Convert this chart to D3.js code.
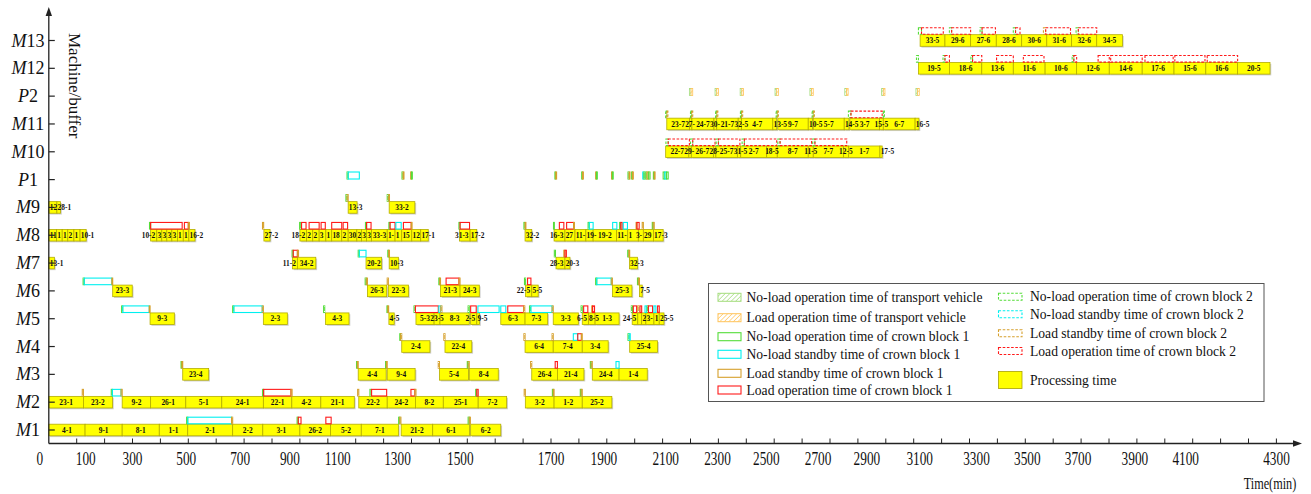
<!DOCTYPE html>
<html>
<head>
<meta charset="utf-8">
<title>Machine/buffer schedule</title>
<script src="https://cdn.jsdelivr.net/npm/d3@7/dist/d3.min.js"></script>
<style>
  html, body { margin: 0; padding: 0; background: #fff; }
  svg { display: block; font-family: "Liberation Serif", "Times New Roman", Times, serif; }
</style>
</head>
<body>
<svg id="chart" width="1311" height="494"></svg>
<script>
// ---------------- rows (bottom to top) ----------------
const rowNames = ["M1","M2","M3","M4","M5","M6","M7","M8","M9","P1","M10","M11","P2","M12","M13"];
const bufferRows = ["P1","P2"];

// ---------------- time axis ----------------
const tickValues = d3.range(100, 4401, 100);
const tickLabels = ["0","100","300","500","700","900","1100","1300","1500","1700","1900","2100",
                    "2300","2500","2700","2900","3100","3300","3500","3700","3900","4100","4300"];

// ---------------- processing time: [operation, start, end] (min) ----------------
const procM1 = [["4-1",0,130],["9-1",130,263],["8-1",263,396],["1-1",396,498],["2-1",498,659],
  ["2-2",659,767],["3-1",767,900],["26-2",900,1010],["5-2",1010,1120],["7-1",1120,1253],
  ["21-2",1263,1376],["6-1",1376,1508],["6-2",1512,1620]];
const procM2 = [["23-1",0,124],["23-2",124,228],["9-2",263,365],["26-1",365,491],["5-1",491,620],
  ["24-1",620,769],["22-1",769,871],["4-2",871,975],["21-1",975,1095],["22-2",1111,1213],
  ["24-2",1213,1314],["8-2",1314,1414],["25-1",1414,1539],["7-2",1539,1641],["3-2",1708,1811],
  ["1-2",1811,1912],["25-2",1912,2018]];
const procM3 = [["23-4",480,573],["4-4",1109,1209],["9-4",1213,1313],["5-4",1400,1504],["8-4",1507,1611],
  ["26-4",1731,1823],["21-4",1823,1918],["24-4",1948,2044],["1-4",2044,2145]];
const procM4 = [["2-4",1265,1366],["22-4",1420,1516],["6-4",1707,1808],["7-4",1808,1912],
  ["3-4",1912,2005],["25-4",2082,2182]];
const procM5 = [["9-3",363,450],["2-3",769,855],["4-3",992,1076],["4-5",1219,1238],["5-3",1316,1381],
  ["23-5",1381,1402],["8-3",1402,1507],["2-5",1512,1534],["9-5",1534,1544],["6-3",1620,1707],
  ["7-3",1707,1788],["3-3",1808,1898],["6-5",1912,1934],["8-5",1934,1958],["1-3",1958,2044],
  ["24-5",2091,2111],["21-5",2111,2125],["26-5",2125,2140],["3-5",2140,2169],["1-5",2169,2188],
  ["25-5",2188,2205]];
const procM6 = [["23-3",229,299],["26-3",1142,1211],["22-3",1217,1289],["21-3",1404,1474],
  ["24-3",1474,1543],["22-5",1709,1731],["5-5",1731,1754],["25-3",2020,2090],["7-5",2117,2127]];
const procM7 = [["13-1",0,20],["11-2",873,891],["34-2",891,957],["20-2",1137,1193],["10-3",1220,1253],
  ["28-3",1818,1850],["20-3",1850,1868],["32-3",2081,2110]];
const procM8 = [["11-1",0,28],["15-1",28,48],["16-1",48,68],["27-1",68,90],["14-1",90,112],["10-1",112,134],
  ["10-2",365,387],["33-1",387,405],["30-1",405,423],["34-1",423,441],["31-1",441,461],["13-2",461,482],
  ["12-2",482,502],["16-2",502,524],
  ["27-2",771,793],
  ["18-2",900,924],["28-2",924,946],["29-2",946,969],["30-2",969,993],["13-3",993,1014],["18-3",1014,1050],
  ["29-3",1050,1073],["30-3",1073,1104],["20-4",1104,1121],["3-6",1121,1139],["31-2",1139,1157],
  ["33-3",1157,1213],["1-6",1213,1241],["15-2",1241,1265],["15-3",1265,1301],["12-3",1301,1333],
  ["17-1",1333,1360],
  ["31-3",1472,1510],["17-2",1510,1534],["32-2",1707,1731],
  ["16-3",1811,1850],["27-3",1850,1886],["11-3",1886,1925],["19-1",1925,1951],["19-2",1951,2035],
  ["11-4",2035,2075],["14-3",2075,2113],["3-7",2113,2131],["29-4",2131,2167],["17-3",2167,2202]];
const procM9 = [["12-1",0,29],["28-1",29,42],["13-3",1073,1105],["33-2",1220,1312]];
const procM10 = [["22-7",2211,2294],["29-5",2294,2303],["26-7",2303,2382],["28-5",2382,2391],
  ["25-7",2391,2468],["31-5",2468,2480],["2-7",2480,2573],["18-5",2573,2611],["8-7",2611,2722],
  ["11-5",2722,2740],["7-7",2740,2848],["12-5",2848,2866],["1-7",2866,2979],["17-5",2979,2987]];
const procM11 = [["23-7",2215,2296],["27-5",2296,2305],["24-7",2305,2384],["30-5",2384,2394],
  ["21-7",2394,2471],["32-5",2471,2483],["4-7",2483,2595],["13-5",2595,2609],["9-7",2613,2722],
  ["10-5",2722,2737],["5-7",2740,2851],["14-5",2851,2868],["3-7",2871,2977],["15-5",2977,2991],
  ["6-7",2991,3105],["16-5",3105,3119]];
const procM12 = [["19-5",3117,3228],["18-6",3228,3344],["13-6",3344,3457],["11-6",3457,3571],
  ["10-6",3571,3684],["12-6",3684,3801],["14-6",3801,3919],["17-6",3919,4033],["15-6",4033,4147],
  ["16-6",4147,4261],["20-5",4261,4377]];
const procM13 = [["33-5",3123,3212],["29-6",3212,3304],["27-6",3304,3396],["28-6",3396,3487],
  ["30-6",3487,3577],["31-6",3577,3666],["32-6",3666,3756],["34-5",3756,3848]];

// ---------------- crown block / vehicle states: [row, start, end, state] ----------------
// state: nlo = no-load operation, nls = no-load standby, ls = load standby, lo = load operation
const crownBlock1 = [
  ["M1",494,498,"nlo"],["M1",498,655,"nls"],["M1",655,659,"ls"],["M1",890,894,"nlo"],["M1",894,904,"lo"],
  ["M1",993,1012,"lo"],["M1",1254,1258,"nlo"],["M1",1258,1262,"ls"],["M1",1503,1507,"nlo"],["M1",1507,1511,"ls"],
  ["M2",120,124,"ls"],["M2",224,228,"nlo"],["M2",228,259,"nls"],["M2",259,263,"ls"],
  ["M2",766,770,"nlo"],["M2",770,868,"lo"],["M2",868,872,"ls"],["M2",1107,1111,"ls"],
  ["M2",1151,1155,"nlo"],["M2",1157,1211,"lo"],["M2",1298,1312,"lo"],["M2",1312,1316,"ls"],
  ["M2",1530,1534,"nlo"],["M2",1534,1539,"lo"],["M2",1704,1708,"ls"],["M2",1805,1808,"nlo"],["M2",1808,1811,"ls"],
  ["M2",1905,1908,"nlo"],["M2",1908,1912,"ls"],
  ["M3",474,477,"nlo"],["M3",477,480,"ls"],["M3",1103,1106,"nlo"],["M3",1106,1109,"ls"],
  ["M3",1207,1210,"nlo"],["M3",1210,1213,"ls"],["M3",1396,1400,"ls"],["M3",1500,1503,"nlo"],["M3",1503,1507,"ls"],
  ["M3",1727,1731,"ls"],["M3",1815,1823,"lo"],["M3",1941,1944,"nlo"],["M3",1944,1948,"ls"],["M3",2033,2044,"nls"],
  ["M4",1258,1261,"nlo"],["M4",1261,1265,"ls"],["M4",1416,1420,"ls"],["M4",1703,1707,"ls"],["M4",1804,1808,"ls"],
  ["M4",1880,1895,"nls"],["M4",1896,1909,"lo"],["M4",1909,1912,"ls"],["M4",2076,2080,"nlo"],["M4",2080,2084,"nls"],
  ["M5",261,265,"nlo"],["M5",265,360,"nls"],["M5",360,363,"ls"],["M5",659,663,"nlo"],["M5",663,765,"nls"],["M5",765,769,"ls"],
  ["M5",985,989,"nlo"],["M5",1212,1215,"nlo"],["M5",1215,1218,"ls"],
  ["M5",1309,1313,"nlo"],["M5",1314,1396,"lo"],["M5",1398,1405,"nls"],["M5",1405,1409,"ls"],
  ["M5",1503,1507,"nlo"],["M5",1512,1532,"lo"],["M5",1538,1614,"nls"],["M5",1620,1638,"nls"],
  ["M5",1645,1702,"lo"],["M5",1702,1706,"ls"],["M5",1723,1727,"nlo"],["M5",1728,1804,"nls"],["M5",1804,1808,"ls"],
  ["M5",1908,1912,"nlo"],["M5",1917,1932,"lo"],["M5",1946,1949,"ls"],["M5",1949,1956,"lo"],
  ["M5",2088,2092,"nlo"],["M5",2095,2107,"lo"],["M5",2111,2115,"ls"],["M5",2119,2125,"lo"],["M5",2137,2143,"nls"],
  ["M5",2145,2149,"nlo"],["M5",2149,2164,"lo"],["M5",2169,2176,"nls"],["M5",2182,2188,"lo"],
  ["M6",123,127,"nlo"],["M6",127,226,"nls"],["M6",226,229,"ls"],["M6",1134,1138,"nlo"],["M6",1138,1142,"ls"],
  ["M6",1213,1217,"ls"],["M6",1398,1401,"nlo"],["M6",1401,1404,"ls"],["M6",1424,1470,"lo"],["M6",1470,1474,"ls"],
  ["M6",1705,1709,"nlo"],["M6",1716,1728,"lo"],["M6",1960,1964,"nlo"],["M6",1964,2016,"nls"],["M6",2016,2020,"ls"],
  ["M6",2110,2113,"nlo"],["M6",2113,2117,"ls"],
  ["M7",872,876,"nlo"],["M7",876,891,"lo"],["M7",891,895,"ls"],["M7",1109,1113,"nlo"],["M7",1113,1137,"nls"],
  ["M7",1215,1218,"nlo"],["M7",1218,1221,"ls"],["M7",1812,1816,"nlo"],["M7",1846,1850,"ls"],["M7",1850,1855,"lo"],
  ["M7",2075,2079,"nlo"],["M7",2079,2082,"ls"],
  ["M8",361,365,"nlo"],["M8",365,478,"lo"],["M8",486,500,"lo"],["M8",500,504,"ls"],["M8",766,770,"ls"],
  ["M8",899,903,"nlo"],["M8",906,922,"lo"],["M8",933,969,"lo"],["M8",976,991,"lo"],["M8",1014,1050,"lo"],
  ["M8",1055,1071,"lo"],["M8",1135,1139,"nlo"],["M8",1139,1155,"lo"],["M8",1219,1223,"nlo"],["M8",1223,1241,"lo"],
  ["M8",1244,1263,"nls"],["M8",1271,1299,"lo"],["M8",1299,1302,"ls"],["M8",1470,1474,"nlo"],["M8",1474,1508,"lo"],
  ["M8",1703,1707,"nlo"],["M8",1707,1710,"ls"],["M8",1809,1812,"nlo"],["M8",1830,1846,"lo"],
  ["M8",1856,1881,"lo"],["M8",1881,1884,"ls"],["M8",1933,1937,"nlo"],["M8",1937,1951,"nls"],
  ["M8",2021,2036,"nls"],["M8",2046,2050,"nlo"],["M8",2050,2055,"lo"],["M8",2059,2074,"nls"],
  ["M8",2105,2108,"ls"],["M8",2108,2116,"lo"],["M8",2127,2131,"ls"],["M8",2163,2166,"nlo"],["M8",2166,2170,"ls"],
  ["M9",1065,1069,"nlo"],["M9",1069,1073,"ls"],["M9",1213,1217,"nlo"],["M9",1217,1221,"ls"],
  ["P1",1069,1073,"nlo"],["P1",1073,1113,"nls"],["P1",1266,1270,"nlo"],["P1",1270,1273,"ls"],
  ["P1",1297,1300,"ls"],["P1",1300,1303,"nlo"],["P1",1814,1817,"nlo"],["P1",1817,1820,"ls"],
  ["P1",1910,1913,"nlo"],["P1",1913,1916,"ls"],["P1",1960,1963,"ls"],["P1",1963,1966,"nlo"],
  ["P1",2017,2020,"ls"],["P1",2020,2023,"nlo"],["P1",2076,2080,"nlo"],["P1",2080,2083,"ls"],
  ["P1",2089,2092,"nlo"],["P1",2092,2095,"ls"],["P1",2129,2133,"nls"],["P1",2133,2137,"nlo"],
  ["P1",2140,2144,"nlo"],["P1",2144,2150,"ls"],["P1",2150,2155,"nlo"],["P1",2167,2170,"nlo"],["P1",2170,2173,"ls"],
  ["P1",2202,2208,"nlo"],["P1",2208,2214,"nls"],["P1",2214,2220,"nlo"]
];
const crownBlock2 = [
  ["M10",2212,2220,"nlo"],["M10",2220,2296,"lo"],["M10",2300,2308,"nlo"],["M10",2308,2388,"lo"],
  ["M10",2392,2400,"nlo"],["M10",2400,2477,"lo"],["M10",2485,2493,"nlo"],["M10",2493,2609,"lo"],
  ["M10",2613,2621,"nlo"],["M10",2621,2734,"lo"],["M10",2738,2746,"nlo"],["M10",2746,2860,"lo"],
  ["M11",2211,2215,"nlo"],["M11",2215,2219,"ls"],["M11",2300,2304,"nlo"],["M11",2304,2308,"ls"],
  ["M11",2390,2394,"nlo"],["M11",2394,2398,"ls"],["M11",2479,2483,"nlo"],["M11",2483,2487,"ls"],
  ["M11",2607,2611,"nlo"],["M11",2611,2615,"ls"],["M11",2736,2740,"nlo"],["M11",2740,2744,"ls"],
  ["M11",2866,2875,"nlo"],["M11",2875,2987,"lo"],["M11",2991,2995,"nlo"],
  ["M12",3110,3117,"nlo"],["M12",3205,3212,"nlo"],["M12",3212,3228,"lo"],["M12",3305,3311,"nlo"],
  ["M12",3311,3344,"lo"],["M12",3397,3457,"lo"],["M12",3493,3567,"lo"],["M12",3668,3674,"nlo"],
  ["M12",3674,3684,"lo"],["M12",3761,3801,"lo"],["M12",3806,3919,"lo"],["M12",3929,4030,"lo"],
  ["M12",4036,4144,"lo"],["M12",4152,4261,"lo"],
  ["M13",3117,3128,"nlo"],["M13",3128,3206,"lo"],["M13",3228,3236,"nlo"],["M13",3236,3304,"lo"],
  ["M13",3338,3345,"nlo"],["M13",3345,3393,"lo"],["M13",3457,3465,"nlo"],["M13",3465,3481,"lo"],
  ["M13",3565,3573,"ls"],["M13",3573,3662,"lo"],["M13",3682,3690,"nlo"],["M13",3690,3756,"lo"]
];
const transportVehicle = [
  ["P2",2296,2302,"nlo"],["P2",2302,2308,"lo"],["P2",2388,2394,"nlo"],["P2",2394,2400,"lo"],
  ["P2",2478,2484,"nlo"],["P2",2484,2490,"lo"],["P2",2603,2609,"nlo"],["P2",2609,2615,"lo"],
  ["P2",2728,2734,"nlo"],["P2",2734,2740,"lo"],["P2",2853,2859,"nlo"],["P2",2859,2865,"lo"],
  ["P2",2985,2991,"nlo"],["P2",2991,2997,"lo"],["P2",3108,3114,"nlo"],["P2",3114,3120,"lo"]
];

// legend entries
const legendLeft = [
  ["No-load operation time of transport vehicle","tv","nlo"],
  ["Load operation time of transport vehicle","tv","lo"],
  ["No-load operation time of crown block 1","cb1","nlo"],
  ["No-load standby time of crown block 1","cb1","nls"],
  ["Load standby time of crown block 1","cb1","ls"],
  ["Load operation time of crown block 1","cb1","lo"]
];
const legendRight = [
  ["No-load operation time of crown block 2","cb2","nlo"],
  ["No-load standby time of crown block 2","cb2","nls"],
  ["Load standby time of crown block 2","cb2","ls"],
  ["Load operation time of crown block 2","cb2","lo"],
  ["Processing time","proc",null]
];

// ---------------- drawing ----------------
const processing = {M1:procM1, M2:procM2, M3:procM3, M4:procM4, M5:procM5, M6:procM6, M7:procM7,
  M8:procM8, M9:procM9, M10:procM10, M11:procM11, M12:procM12, M13:procM13};

const svg = d3.select("#chart");
const x = d3.scaleLinear().domain([0, 4300]).range([48.8, 1248.5]);
const y = d3.scalePoint().domain(rowNames).range([430, 40.5]);
const axisY = 443.5, axisX = x(0);

const stateColor = {nlo:"#55dd3a", nls:"#00f0f0", ls:"#d6a02c", lo:"#ff1a1a"};
const hatchColor = {nlo:"#a4dc7c", lo:"#ffc45a"};

const defs = svg.append("defs");
Object.entries(hatchColor).forEach(([k, c]) => {
  const p = defs.append("pattern").attr("id", "hatch-" + k)
    .attr("patternUnits", "userSpaceOnUse").attr("width", 3.2).attr("height", 3.2)
    .attr("patternTransform", "rotate(45)");
  p.append("rect").attr("width", 3.2).attr("height", 3.2).attr("fill", "#fff");
  p.append("line").attr("x1", 0).attr("y1", 0).attr("x2", 0).attr("y2", 3.2)
    .attr("stroke", c).attr("stroke-width", 1.3);
});

// processing bars with operation labels
const barH = 11.6;
const gBars = svg.append("g");
const span = d => x(d[2]) - x(d[1]);
rowNames.forEach(r => {
  const ops = processing[r];
  if (!ops) return;
  const cy = y(r);
  const g = gBars.append("g");
  g.selectAll("rect.shadow").data(ops).join("rect").attr("class", "shadow")
    .attr("x", d => x(d[1]) + 1.3).attr("y", cy - barH / 2 + 1.3)
    .attr("width", span).attr("height", barH).attr("fill", "#cfcfcf");
  g.selectAll("rect.bar").data(ops).join("rect").attr("class", "bar")
    .attr("x", d => x(d[1])).attr("y", cy - barH / 2)
    .attr("width", span).attr("height", barH)
    .attr("fill", "#ffff00").attr("stroke", "#b4ad00").attr("stroke-width", 0.8);

  // place each label: centred when it fits, otherwise pushed beside its bar
  const labels = ops.map((d, i) => {
    const t = g.append("text").text(d[0]).attr("y", cy + 2.6)
      .style("font-size", "7.4px").style("font-weight", "bold").attr("fill", "#111");
    const w = t.node().getComputedTextLength();
    const x0 = x(d[1]), x1 = x(d[2]);
    const prev = ops[i - 1], next = ops[i + 1];
    const prevAdj = prev && d[1] - prev[2] < 3;
    const nextAdj = next && next[1] - d[2] < 3;
    const fits = w <= x1 - x0 - 1;
    let left;
    if (fits) left = (x0 + x1) / 2 - w / 2;
    else if (nextAdj && !prevAdj) left = x(next[1]) - 1.5 - w;
    else if (prevAdj && nextAdj && span(prev) > w && span(next) > w) left = (x0 + x1) / 2 - w / 2;
    else left = x0 + 0.7;
    left = Math.max(left, axisX + 1);
    t.attr("x", left);
    return {t, text: d[0], left, w, fits};
  });
  for (let i = 0; i < labels.length - 1; i++) {
    const a = labels[i], b = labels[i + 1];
    if (!a.t) continue;
    if (a.left + a.w > b.left - 0.3) {
      if (a.fits) {
        b.left = a.left + a.w + 0.3;
        b.t.attr("x", b.left);
      } else {
        let s = a.text;
        while (s.length && a.left + a.t.node().getComputedTextLength() > b.left - 0.3) {
          s = s.slice(0, -1);
          a.t.text(s);
        }
        if (!s.length) { a.t.remove(); a.t = null; }
        else a.w = a.t.node().getComputedTextLength();
      }
    }
  }
});

// crown block and vehicle states
function markBox(d) {
  const cy = y(d[0]);
  const buf = bufferRows.includes(d[0]);
  const top = buf ? cy - 7.6 : cy - 12.8;
  const h = buf ? 7 : 6.6;
  const x0 = x(d[1]);
  const w = Math.max(x(d[2]) - x0, 0.6);
  return {x: x0, y: top, w, h};
}
const gMarks = svg.append("g");
function drawStates(data, dashed) {
  data.forEach(d => {
    const b = markBox(d);
    gMarks.append("rect").attr("x", b.x).attr("y", b.y).attr("width", b.w).attr("height", b.h)
      .attr("fill", "none").attr("stroke", stateColor[d[3]]).attr("stroke-width", 1.1)
      .attr("stroke-dasharray", dashed ? "2.6,1.6" : null);
  });
}
drawStates(crownBlock1, false);
drawStates(crownBlock2, true);
transportVehicle.forEach(d => {
  const b = markBox(d);
  gMarks.append("rect").attr("x", b.x).attr("y", b.y).attr("width", b.w).attr("height", b.h)
    .attr("fill", "url(#hatch-" + d[3] + ")").attr("stroke", hatchColor[d[3]]).attr("stroke-width", 0.8);
});

// axes
const axisColor = "#222";
const gAxis = svg.append("g");
gAxis.append("line").attr("x1", axisX).attr("y1", axisY).attr("x2", 1296).attr("y2", axisY)
  .attr("stroke", axisColor).attr("stroke-width", 1.3);
gAxis.append("path").attr("d", `M1302,${axisY} L1293,${axisY - 3.2} L1293,${axisY + 3.2} Z`).attr("fill", axisColor);
gAxis.append("line").attr("x1", axisX).attr("y1", axisY).attr("x2", axisX).attr("y2", 14)
  .attr("stroke", axisColor).attr("stroke-width", 1.3);
gAxis.append("path").attr("d", `M${axisX},7 L${axisX - 3.2},16 L${axisX + 3.2},16 Z`).attr("fill", axisColor);

gAxis.selectAll("line.xt").data(tickValues).join("line").attr("class", "xt")
  .attr("x1", d => x(d)).attr("x2", d => x(d)).attr("y1", axisY).attr("y2", axisY - 5)
  .attr("stroke", axisColor).attr("stroke-width", 1);
gAxis.selectAll("line.yt").data(rowNames).join("line").attr("class", "yt")
  .attr("x1", axisX).attr("x2", axisX + 6).attr("y1", d => y(d)).attr("y2", d => y(d))
  .attr("stroke", axisColor).attr("stroke-width", 1.2);

// tick labels sit slightly off their ticks in this layout
const tickLabelShift = [-9, 9, 0, -2, -4, -10, -18, -14, -7, 28, 25, 31, 27, 20, 16, 9, 6, 7, 2, -3, -2, -7, 28];
gAxis.selectAll("text.xl").data(tickLabels).join("text").attr("class", "xl")
  .attr("transform", (d, i) => `translate(${x(+d) + tickLabelShift[i]},465) scale(0.7,1)`)
  .attr("text-anchor", "middle").style("font-size", "19px").attr("fill", "#111").text(d => d);

gAxis.append("text").attr("transform", "translate(1270,489) scale(0.72,1)")
  .attr("text-anchor", "middle").style("font-size", "17px").attr("fill", "#111").text("Time(min)");

// row labels
rowNames.forEach(r => {
  const t = gAxis.append("text").attr("x", 28).attr("y", y(r) + 6)
    .attr("text-anchor", "middle").style("font-size", "18px").attr("fill", "#111");
  t.append("tspan").style("font-style", "italic").text(r[0]);
  t.append("tspan").text(r.slice(1));
});
gAxis.append("text").attr("transform", "translate(68.5,33) rotate(90)")
  .style("font-size", "17px").attr("fill", "#111").text("Machine/buffer");

// legend
const gLeg = svg.append("g");
gLeg.append("rect").attr("x", 708.5).attr("y", 283.5).attr("width", 555.5).attr("height", 118)
  .attr("fill", "#fff").attr("stroke", "#555").attr("stroke-width", 1);
function swatch(kind, state, sx, cyv, w, h) {
  if (kind === "tv") {
    gLeg.append("rect").attr("x", sx).attr("y", cyv - h / 2).attr("width", w).attr("height", h)
      .attr("fill", "url(#hatch-" + state + ")").attr("stroke", hatchColor[state]).attr("stroke-width", 1);
  } else if (kind === "proc") {
    gLeg.append("rect").attr("x", sx).attr("y", cyv - 8.5).attr("width", w).attr("height", 17)
      .attr("fill", "#ffff00").attr("stroke", "#aaa200").attr("stroke-width", 0.8);
  } else {
    gLeg.append("rect").attr("x", sx).attr("y", cyv - h / 2).attr("width", w).attr("height", h)
      .attr("fill", "none").attr("stroke", stateColor[state]).attr("stroke-width", 1.1)
      .attr("stroke-dasharray", kind === "cb2" ? "2.6,1.6" : null);
  }
}
const leftY = [297.3, 317.7, 336.7, 354.3, 373.3, 390];
legendLeft.forEach((d, i) => {
  swatch(d[1], d[2], 718, leftY[i], 23, 8);
  gLeg.append("text").attr("x", 746.5).attr("y", leftY[i] + 4.6).style("font-size", "13.6px")
    .attr("fill", "#111").text(d[0]);
});
const rightY = [296.7, 314.3, 333.3, 351, 380];
legendRight.forEach((d, i) => {
  swatch(d[1], d[2], 998.5, rightY[i], 23.5, 7);
  gLeg.append("text").attr("x", 1030).attr("y", rightY[i] + 4.6).style("font-size", "13.6px")
    .attr("fill", "#111").text(d[0]);
});
</script>
</body>
</html>
